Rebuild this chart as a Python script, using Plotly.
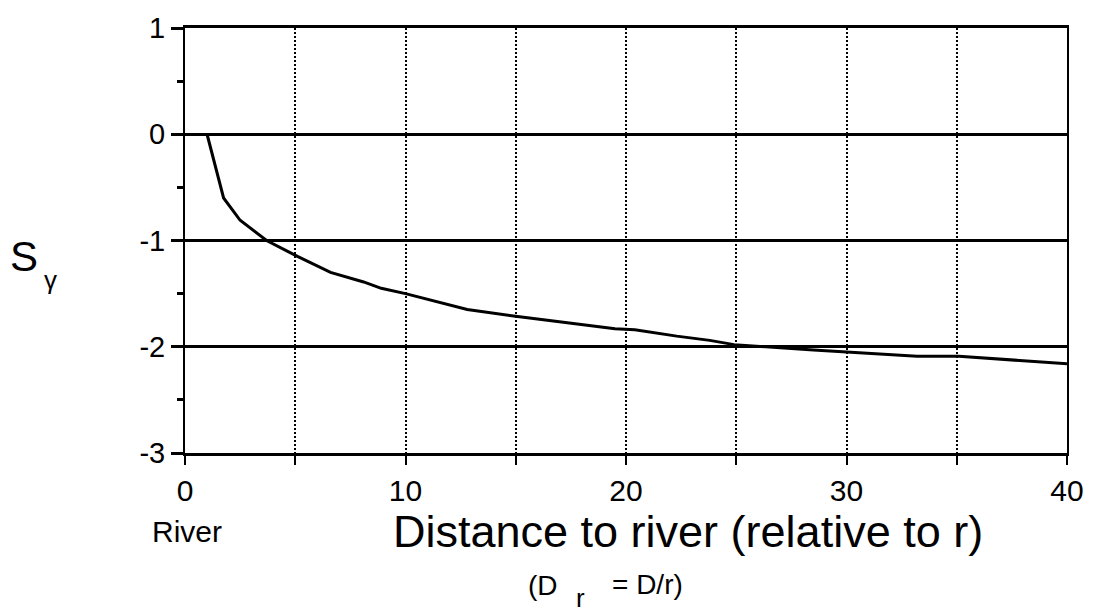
import plotly.graph_objects as go

# Data
dist = [1, 1.75, 2.5, 3.7, 5.1, 6.6, 8.1, 8.9, 10, 11.3, 12.8, 14.9, 16.9, 19.5,
        20.4, 22.3, 23.8, 24.9, 28.5, 30, 33.2, 35.1, 36.5, 39, 40]
s_gamma = [0, -0.6, -0.81, -1.0, -1.15, -1.30, -1.39, -1.45, -1.5, -1.57, -1.65,
           -1.71, -1.76, -1.83, -1.84, -1.90, -1.94, -1.98, -2.03, -2.05, -2.09,
           -2.09, -2.11, -2.14, -2.16]

x_tickvals = [0, 5, 10, 15, 20, 25, 30, 35, 40]
x_ticktext = ["0", "", "10", "", "20", "", "30", "", "40"]
y_tickvals = [1, 0, -1, -2, -3]
y_ticktext = ["1", "0", "-1", "-2", "-3"]

FONT = "Liberation Sans, Arial, sans-serif"

fig = go.Figure()
fig.add_trace(go.Scatter(x=dist, y=s_gamma, mode="lines",
                         line=dict(color="black", width=3), showlegend=False))

fig.update_layout(
    width=1096, height=614,
    margin=dict(l=185, r=25, t=18, b=161),
    paper_bgcolor="white", plot_bgcolor="white",
    font=dict(family=FONT, color="black"),
    xaxis=dict(range=[0, 40], tickvals=x_tickvals, ticktext=x_ticktext,
               showgrid=True, gridcolor="black", gridwidth=1.5, griddash="2px,2px",
               showline=True, linecolor="black", linewidth=2.5, mirror=True,
               ticks="outside", ticklen=9, tickwidth=2, tickcolor="black",
               tickfont=dict(size=30, family=FONT), zeroline=False),
    yaxis=dict(range=[-3, 1], tickvals=y_tickvals, ticktext=y_ticktext,
               showgrid=True, gridcolor="black", gridwidth=2.5,
               showline=True, linecolor="black", linewidth=2, mirror=True,
               ticks="outside", ticklen=12, tickwidth=2.5, tickcolor="black",
               minor=dict(dtick=0.5, tick0=0, ticks="outside", ticklen=6,
                          tickwidth=2.5, tickcolor="black", showgrid=False),
               tickfont=dict(size=29, family=FONT), zeroline=False),
)

ann = [
    dict(text="River", x=0.1, y=-0.185, xref="x", yref="paper", size=30),
    dict(text="Distance to river (relative to r)", x=22.8, y=-0.185, xref="x", yref="paper", size=45),
    dict(text="(D", x=545, y=589, xref="px", yref="px", size=28),
    dict(text="r", x=582, y=601, xref="px", yref="px", size=26),
    dict(text="= D/r)", x=650, y=588, xref="px", yref="px", size=28),
    dict(text="S", x=23, y=252, xref="px", yref="px", size=42),
    dict(text="γ", x=50, y=276, xref="px", yref="px", size=26),
]
W, H = 1096, 614
for a in ann:
    if a["xref"] == "px":
        xx = (a["x"] - 185) / (W - 185 - 25)
        xr = "paper"
    else:
        xx, xr = a["x"], a["xref"]
    if a["yref"] == "px":
        yy = (H - 161 - a["y"]) / (H - 18 - 161)
    else:
        yy = a["y"]
    fig.add_annotation(text=a["text"], x=xx, y=yy, xref=xr, yref="paper",
                       showarrow=False, xanchor="center", yanchor="middle",
                       font=dict(size=a["size"], family=FONT, color="black"))

fig.write_html("out.html")
